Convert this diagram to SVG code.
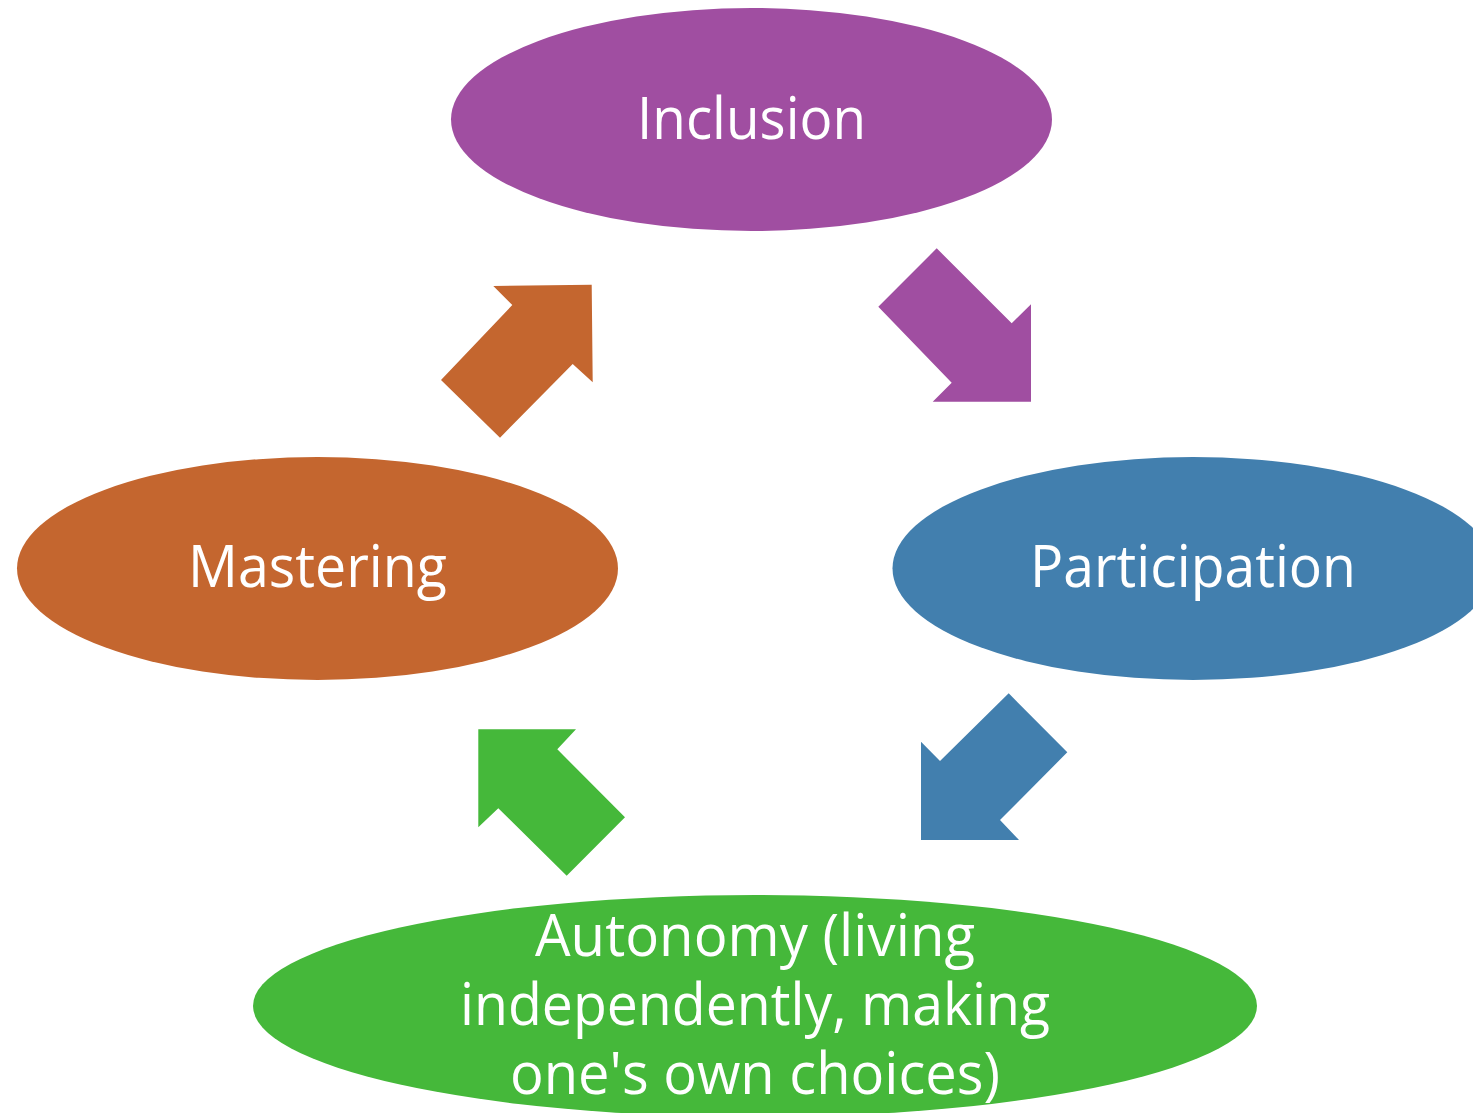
<svg xmlns="http://www.w3.org/2000/svg" width="1473" height="1113" viewBox="0 0 1473 1113">
<style>
.lbl{font-family:"Open Sans","Noto Sans","Liberation Sans",sans-serif;font-size:58px;fill:#ffffff;text-anchor:middle}
.purple{fill:#A04EA1}
.orange{fill:#C4662F}
.blue{fill:#427FAE}
.green{fill:#45B83A}
</style>
<rect width="1473" height="1113" fill="#ffffff"/>
<g id="inclusion">
<ellipse class="purple" cx="751.5" cy="119.5" rx="300.5" ry="111.5"/>
<text class="lbl" x="751.5" y="139" textLength="229" lengthAdjust="spacingAndGlyphs">Inclusion</text>
</g>
<g id="participation">
<ellipse class="blue" cx="1193" cy="568.5" rx="300.5" ry="111.5"/>
<text class="lbl" x="1193" y="587" textLength="326" lengthAdjust="spacingAndGlyphs">Participation</text>
</g>
<g id="mastering">
<ellipse class="orange" cx="317.5" cy="568.5" rx="300.5" ry="111.5"/>
<text class="lbl" x="317.5" y="587" textLength="259" lengthAdjust="spacingAndGlyphs">Mastering</text>
</g>
<g id="autonomy">
<ellipse class="green" cx="755" cy="1006" rx="502" ry="111"/>
<text class="lbl" x="755" y="956" textLength="440" lengthAdjust="spacingAndGlyphs">Autonomy (living</text>
<text class="lbl" x="755" y="1025" textLength="590" lengthAdjust="spacingAndGlyphs">independently, making</text>
<text class="lbl" x="755" y="1094" textLength="490" lengthAdjust="spacingAndGlyphs">one's own choices)</text>
</g>
<g id="connectors">
<polygon class="purple" points="936.7,248.3 1011.7,323.3 1031,304.3 1031,401.7 932.7,401.7 951.7,382.7 878.3,306.7"/>
<polygon class="blue" points="1008.7,693.3 1067.3,752.3 1000,820 1019,840 921,840 921,741.7 940,761"/>
<polygon class="green" points="478.3,729.3 576,729.3 557.3,749.3 625,817.3 566.7,875.7 498.3,808.3 478.3,827.3"/>
<polygon class="orange" points="493.3,286 591.7,284.7 592.7,382.3 572.7,364 500,437.7 441,380 512.3,305"/>
</g>
</svg>
